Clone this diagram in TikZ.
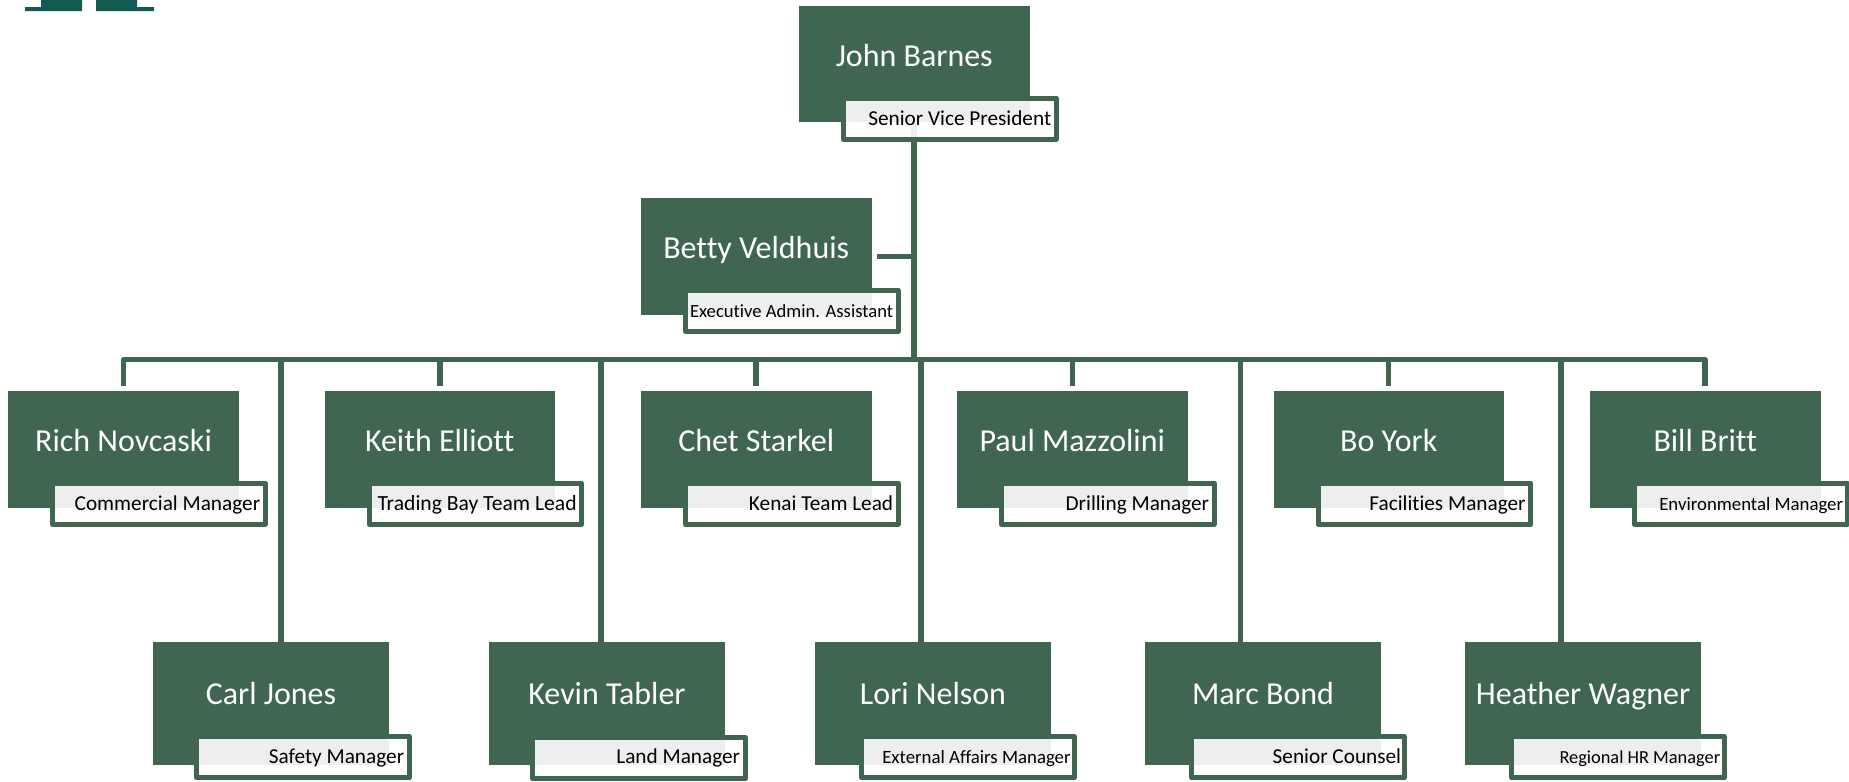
\documentclass[tikz,border=0pt]{standalone}
\usepackage{fontspec}
\setmainfont[Ligatures=CommonOff]{Carlito}
\usetikzlibrary{calc}
\definecolor{boxgreen}{HTML}{406550}
\definecolor{logoteal}{HTML}{135B52}
\tikzset{
  conn/.style={draw=boxgreen,line width=0.106cm,line join=round},
  namebox/.style={fill=boxgreen,draw=none,inner sep=0pt,minimum width=#1*0.02cm},
  rolebox/.style={draw=boxgreen,line width=0.106cm,line join=round,fill=white,fill opacity=0.9,draw opacity=1,inner sep=0pt,anchor=north west,minimum width=212.5*0.02cm,minimum height=41*0.02cm},
  nametext/.style={text=white,font=\fontsize{18.2}{20}\selectfont,anchor=base,inner sep=0pt},
  roletext/.style={text=black,anchor=base east,inner sep=0pt},
  rolenormal/.style={font=\fontsize{12.1}{14}\selectfont},
  rolewide/.style={font=\fontsize{12.3}{14}\selectfont},
  rolesmall/.style={font=\fontsize{10.7}{12}\selectfont},
  roletiny/.style={font=\fontsize{10.6}{12}\selectfont},
  rolemini/.style={font=\fontsize{10.45}{12}\selectfont},
}
% #1 id, #2 left, #3 top, #4 width, #5 height, #6 role box outer left, #7 name, #8 role style, #9 role
\newcommand{\staffbox}[9]{%
  \node[namebox=#4,minimum height=#5*0.02cm,anchor=north west] (#1) at (#2,#3) {};
  \node[rolebox] (#1r) at (#6,#3+\subdy) {};
  \node[nametext] (#1n) at (#2+#4/2,#3+\namedy) {#7};
  \node[roletext,#8] (#1t) at (#6+217.5-\roledx,#3+\roledy) {#9};
}
\begin{document}
\begin{tikzpicture}[x=0.02cm,y=-0.02cm]
\useasboundingbox (0,0) rectangle (1849,781);
\clip (0,0) rectangle (1849,781);
% logo fragment
\fill[logoteal] (25,7) -- (41,7) -- (41,0) -- (82,0) -- (82,11) -- (25,11) -- cycle;
\fill[logoteal] (96,0) -- (137,0) -- (137,7) -- (154,7) -- (154,11) -- (96,11) -- cycle;
% anchors for the connectors
\coordinate (john) at (914,122);
\coordinate (bus) at (914,359.5);
\coordinate (betty) at (871,256.5);
\coordinate (drop1) at (281,359.5);
\coordinate (drop2) at (601,359.5);
\coordinate (drop3) at (921,359.5);
\coordinate (drop4) at (1240.5,359.5);
\coordinate (drop5) at (1561,359.5);
\draw[conn] (john) -- (bus);
\draw[conn,shorten <=0.12cm] (betty) -- (betty -| bus);
\draw[conn] (123.5,386) -- (123.5,359.5) -- (1705,359.5) -- (1705,386);
\draw[conn] (440,359.5) -- (440,386);
\draw[conn] (756,359.5) -- (756,386);
\draw[conn] (1072.5,359.5) -- (1072.5,386);
\draw[conn] (1388.5,359.5) -- (1388.5,386);
\draw[conn] (drop1) -- (281,642);
\draw[conn] (drop2) -- (601,642);
\draw[conn] (drop3) -- (921,642);
\draw[conn] (drop4) -- (1240.5,642);
\draw[conn] (drop5) -- (1561,642);
\def\subdy{89.5}\def\namedy{60.5}\def\roledy{119}\def\roledx{7}
\staffbox{a}{799}{6}{230.5}{116}{841}{John Barnes}{rolenormal}{Senior Vice President}
\staffbox{b}{641}{198}{230.5}{117}{683}{Betty Veldhuis}{roletiny}{Executive Admin. Assistant}
\staffbox{c}{8}{391}{231}{117}{50}{Rich Novcaski}{rolenormal}{Commercial Manager}
\staffbox{d}{324.5}{391}{230.5}{117}{366.5}{Keith Elliott}{rolewide}{Trading Bay Team Lead}
\staffbox{e}{641}{391}{230.5}{117}{683}{Chet Starkel}{rolenormal}{Kenai Team Lead}
\staffbox{f}{957}{391}{230.5}{117}{999}{Paul Mazzolini}{rolenormal}{Drilling Manager}
\staffbox{g}{1273.5}{391}{230.5}{117}{1315.5}{Bo York}{rolenormal}{Facilities Manager}
\def\roledx{6}
\staffbox{h}{1590}{391}{230.5}{117}{1632}{Bill Britt}{rolesmall}{Environmental Manager}
\def\subdy{92}\def\namedy{62}\def\roledy{121}\def\roledx{7}
\staffbox{i}{153}{642}{236}{123}{194}{Carl Jones}{rolenormal}{Safety Manager}
\def\subdy{93}
\staffbox{j}{489}{642}{236}{123}{530}{Kevin Tabler}{rolenormal}{Land Manager}
\def\subdy{92}\def\roledx{5.5}
\staffbox{k}{815}{642}{236}{123}{859}{Lori Nelson}{rolesmall}{External Affairs Manager}
\def\roledx{5}
\staffbox{l}{1145}{642}{236}{123}{1189}{Marc Bond}{rolenormal}{Senior Counsel}
\def\roledx{6}
\staffbox{m}{1465}{642}{236}{123}{1509}{Heather Wagner}{rolemini}{Regional HR Manager}
\end{tikzpicture}
\end{document}
